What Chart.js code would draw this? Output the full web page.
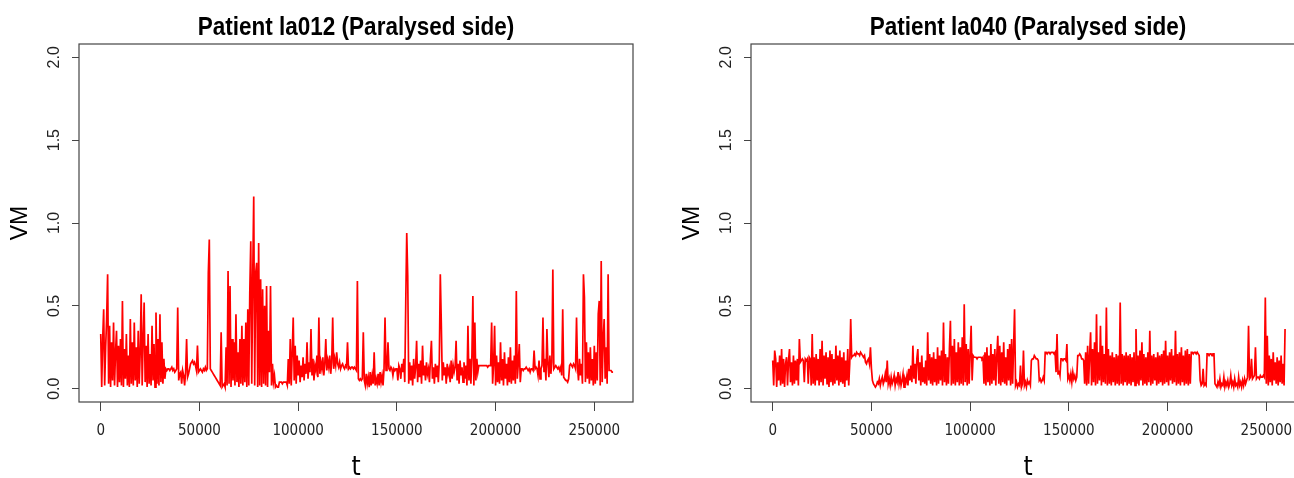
<!DOCTYPE html>
<html><head><meta charset="utf-8">
<script src="https://cdn.jsdelivr.net/npm/chart.js@4.4.0/dist/chart.umd.min.js"></script>
<style>
html,body{margin:0;padding:0;background:#fff;overflow:hidden;width:1294px;height:478px;}
canvas{position:absolute;top:0;}
#c1{left:0}
#c2{left:672px}
</style></head><body>
<canvas id="c1" width="712" height="478"></canvas>
<canvas id="c2" width="712" height="478"></canvas>
<script>
// sampling interval of t (one value per step)
const tStep = 500;

const panelTitles = ["Patient la012 (Paralysed side)", "Patient la040 (Paralysed side)"];
const xTitle = "t";
const yTitle = "VM";
const xTicks = [0, 50000, 100000, 150000, 200000, 250000];
const yTicks = [0, 0.5, 1.0, 1.5, 2.0];

// Patient la012 VM values, one per 500 t
const vmLa012 = [
 0.33,0.01,0.30,0.48,0.02,0.25,0.42,0.69,0.03,0.38, 0.01,0.28,0.05,0.40,0.02,0.22,0.35,0.01,0.26,0.04,
 0.30,0.02,0.53,0.01,0.24,0.06,0.33,0.02,0.20,0.01, 0.42,0.03,0.28,0.02,0.40,0.05,0.25,0.01,0.35,0.03,
 0.22,0.57,0.02,0.30,0.52,0.04,0.26,0.01,0.33,0.03, 0.21,0.02,0.38,0.05,0.27,0.01,0.46,0.03,0.30,0.02,
 0.45,0.04,0.28,0.03,0.18,0.06,0.12,0.11,0.12,0.12, 0.11,0.12,0.13,0.11,0.12,0.10,0.11,0.12,0.49,0.05,
 0.09,0.10,0.03,0.11,0.08,0.02,0.10,0.30,0.07,0.09, 0.12,0.15,0.16,0.17,0.15,0.16,0.14,0.11,0.26,0.10,
 0.11,0.12,0.11,0.10,0.12,0.11,0.13,0.11,0.12,0.70, 0.90,0.12,0.11,0.10,0.09,0.08,0.07,0.06,0.05,0.04,
 0.03,0.02,0.34,0.01,0.02,0.03,0.01,0.25,0.02,0.71, 0.03,0.62,0.01,0.30,0.05,0.28,0.02,0.45,0.04,0.22,
 0.01,0.30,0.03,0.38,0.02,0.30,0.04,0.40,0.01,0.48, 0.02,0.58,0.89,0.03,0.68,1.16,0.02,0.70,0.76,0.01,
 0.88,0.02,0.66,0.01,0.60,0.03,0.50,0.02,0.62,0.01, 0.35,0.10,0.62,0.02,0.15,0.04,0.08,0.01,0.02,0.01,
 0.01,0.04,0.04,0.04,0.03,0.04,0.04,0.04,0.04,0.02, 0.18,0.03,0.30,0.02,0.22,0.43,0.05,0.26,0.03,0.20,
 0.08,0.17,0.04,0.14,0.07,0.19,0.05,0.15,0.09,0.28, 0.06,0.16,0.10,0.36,0.08,0.18,0.05,0.14,0.11,0.20,
 0.07,0.43,0.09,0.16,0.12,0.19,0.08,0.15,0.30,0.11, 0.17,0.13,0.20,0.09,0.16,0.43,0.12,0.18,0.14,0.22,
 0.15,0.13,0.16,0.12,0.14,0.15,0.13,0.12,0.14,0.13, 0.28,0.12,0.13,0.12,0.13,0.13,0.12,0.13,0.12,0.11,
 0.65,0.06,0.05,0.06,0.05,0.06,0.34,0.05,0.02,0.09, 0.03,0.07,0.01,0.10,0.02,0.08,0.03,0.22,0.02,0.06,
 0.03,0.09,0.02,0.10,0.04,0.08,0.02,0.12,0.43,0.11, 0.12,0.28,0.12,0.11,0.13,0.12,0.08,0.12,0.11,0.12,
 0.12,0.05,0.14,0.12,0.06,0.15,0.10,0.18,0.04,0.52, 0.94,0.68,0.03,0.16,0.05,0.14,0.02,0.18,0.06,0.13,
 0.29,0.04,0.15,0.07,0.17,0.03,0.26,0.08,0.14,0.05, 0.16,0.09,0.12,0.04,0.18,0.29,0.06,0.13,0.03,0.15,
 0.07,0.14,0.04,0.17,0.69,0.40,0.05,0.16,0.08,0.13, 0.03,0.15,0.09,0.12,0.04,0.17,0.06,0.14,0.10,0.13,
 0.29,0.05,0.15,0.03,0.17,0.08,0.13,0.04,0.16,0.06, 0.14,0.02,0.38,0.05,0.18,0.03,0.20,0.56,0.02,0.40,
 0.05,0.18,0.10,0.14,0.14,0.14,0.14,0.14,0.14,0.14, 0.14,0.14,0.13,0.14,0.14,0.14,0.40,0.03,0.15,0.38,
 0.02,0.20,0.04,0.16,0.03,0.28,0.05,0.18,0.02,0.22, 0.06,0.15,0.02,0.19,0.04,0.25,0.03,0.17,0.05,0.20,
 0.03,0.59,0.06,0.15,0.27,0.04,0.12,0.12,0.11,0.12, 0.12,0.13,0.12,0.11,0.12,0.10,0.12,0.12,0.11,0.23,
 0.12,0.13,0.12,0.08,0.17,0.06,0.12,0.14,0.43,0.10, 0.18,0.05,0.36,0.15,0.07,0.20,0.09,0.16,0.72,0.12,
 0.13,0.14,0.13,0.12,0.13,0.11,0.13,0.08,0.48,0.07, 0.06,0.05,0.05,0.04,0.06,0.14,0.15,0.14,0.13,0.15,
 0.14,0.12,0.43,0.13,0.05,0.18,0.08,0.15,0.03,0.69, 0.55,0.04,0.28,0.06,0.22,0.03,0.25,0.05,0.18,0.02,
 0.26,0.03,0.22,0.05,0.45,0.53,0.02,0.77,0.04,0.30, 0.42,0.06,0.25,0.03,0.69,0.11,0.11,0.11,0.10,0.10
];

// Patient la040 VM values, one per 500 t
const vmLa040 = [
 0.17,0.02,0.23,0.18,0.01,0.16,0.05,0.20,0.02,0.24, 0.03,0.18,0.01,0.15,0.19,0.02,0.17,0.24,0.04,0.16,
 0.02,0.20,0.03,0.17,0.05,0.18,0.02,0.30,0.16,0.17, 0.18,0.17,0.04,0.18,0.17,0.18,0.03,0.19,0.18,0.02,
 0.33,0.03,0.19,0.02,0.21,0.05,0.18,0.02,0.24,0.04, 0.29,0.02,0.20,0.06,0.22,0.03,0.19,0.01,0.23,0.04,
 0.21,0.02,0.18,0.03,0.26,0.05,0.20,0.02,0.23,0.04, 0.19,0.03,0.22,0.01,0.17,0.05,0.24,0.02,0.15,0.42,
 0.19,0.20,0.20,0.21,0.20,0.22,0.21,0.21,0.20,0.22, 0.21,0.20,0.19,0.20,0.16,0.15,0.17,0.18,0.15,0.25,
 0.12,0.05,0.03,0.02,0.01,0.02,0.04,0.03,0.06,0.02, 0.05,0.07,0.03,0.05,0.09,0.04,0.17,0.03,0.06,0.02,
 0.07,0.03,0.05,0.08,0.02,0.06,0.04,0.10,0.03,0.07, 0.02,0.05,0.09,0.01,0.06,0.04,0.08,0.02,0.12,0.05,
 0.14,0.04,0.26,0.06,0.15,0.03,0.18,0.24,0.05,0.16, 0.02,0.20,0.04,0.13,0.03,0.17,0.02,0.34,0.05,0.21,
 0.03,0.19,0.02,0.22,0.04,0.18,0.02,0.25,0.03,0.20, 0.05,0.23,0.02,0.40,0.04,0.21,0.02,0.19,0.03,0.24,
 0.41,0.02,0.26,0.03,0.30,0.02,0.22,0.04,0.28,0.02, 0.25,0.03,0.31,0.02,0.51,0.04,0.27,0.02,0.24,0.03,
 0.22,0.38,0.05,0.20,0.19,0.19,0.19,0.18,0.19,0.19, 0.19,0.19,0.18,0.19,0.03,0.22,0.02,0.25,0.04,0.20,
 0.02,0.27,0.03,0.21,0.05,0.24,0.02,0.20,0.32,0.03, 0.26,0.02,0.22,0.04,0.28,0.03,0.19,0.02,0.24,0.05,
 0.27,0.02,0.30,0.03,0.25,0.48,0.02,0.04,0.01,0.03, 0.02,0.14,0.01,0.03,0.23,0.02,0.04,0.01,0.05,0.03,
 0.04,0.02,0.17,0.18,0.18,0.20,0.19,0.18,0.18,0.17, 0.05,0.06,0.04,0.05,0.07,0.05,0.22,0.22,0.21,0.22,
 0.22,0.21,0.22,0.22,0.22,0.21,0.22,0.10,0.33,0.09, 0.11,0.08,0.18,0.18,0.17,0.18,0.18,0.17,0.27,0.06,
 0.08,0.05,0.09,0.04,0.10,0.06,0.08,0.05,0.07,0.20, 0.20,0.21,0.20,0.18,0.18,0.17,0.03,0.22,0.02,0.26,
 0.03,0.20,0.34,0.02,0.24,0.04,0.28,0.02,0.45,0.03, 0.22,0.05,0.38,0.02,0.26,0.04,0.21,0.03,0.49,0.02,
 0.24,0.03,0.20,0.02,0.22,0.04,0.19,0.02,0.21,0.03, 0.20,0.02,0.52,0.03,0.21,0.02,0.20,0.04,0.22,0.02,
 0.20,0.03,0.21,0.02,0.19,0.04,0.22,0.02,0.36,0.03, 0.20,0.02,0.23,0.05,0.28,0.02,0.21,0.03,0.19,0.02,
 0.22,0.04,0.35,0.02,0.20,0.03,0.21,0.05,0.19,0.02, 0.22,0.03,0.20,0.04,0.21,0.02,0.23,0.03,0.29,0.04,
 0.20,0.02,0.22,0.05,0.24,0.03,0.20,0.04,0.35,0.02, 0.21,0.03,0.22,0.02,0.25,0.04,0.20,0.02,0.23,0.03,
 0.24,0.02,0.21,0.03,0.22,0.22,0.21,0.22,0.22,0.21, 0.22,0.21,0.20,0.05,0.02,0.03,0.12,0.02,0.03,0.02,
 0.21,0.21,0.20,0.21,0.21,0.20,0.21,0.21,0.03,0.02, 0.01,0.04,0.02,0.06,0.01,0.03,0.02,0.07,0.01,0.04,
 0.02,0.05,0.01,0.03,0.08,0.02,0.04,0.01,0.06,0.02, 0.03,0.01,0.07,0.02,0.04,0.01,0.05,0.02,0.06,0.03,
 0.05,0.07,0.38,0.06,0.07,0.18,0.06,0.07,0.08,0.25, 0.06,0.07,0.07,0.06,0.08,0.07,0.07,0.08,0.07,0.55,
 0.03,0.32,0.02,0.20,0.04,0.18,0.02,0.22,0.05,0.16, 0.03,0.19,0.02,0.17,0.04,0.20,0.03,0.15,0.02,0.36
];

const condensed = "'Liberation Sans Narrow','Arial Narrow','DejaVu Sans Condensed',sans-serif";
const regular = "'Liberation Sans',Arial,sans-serif";

const boxPlugin = {
  id: 'plotBox',
  afterDatasetsDraw(chart) {
    const {ctx, chartArea: a} = chart;
    ctx.save();
    ctx.strokeStyle = '#444';
    ctx.lineWidth = 1.2;
    ctx.strokeRect(a.left, a.top, a.right - a.left, a.bottom - a.top);
    ctx.restore();
  }
};

// main title, centred over the plot box (narrow like the original)
const titlePlugin = {
  id: 'panelTitle',
  afterDraw(chart, args, opts) {
    const {ctx, chartArea: a} = chart;
    ctx.save();
    ctx.font = "bold 25px 'Liberation Sans', Arial, sans-serif";
    ctx.fillStyle = '#000';
    ctx.textAlign = 'center';
    ctx.textBaseline = 'alphabetic';
    ctx.translate((a.left + a.right) / 2, 35);
    ctx.scale(0.9, 1);
    ctx.fillText(opts.text, 0, 0);
    ctx.restore();
  }
};

function makeChart(id, title, values) {
  const pts = values.map((v, i) => ({x: i * tStep, y: v}));
  return new Chart(document.getElementById(id), {
    type: 'line',
    data: { datasets: [{ data: pts, borderColor: '#ff0000', borderWidth: 1.7, pointRadius: 0, tension: 0, fill: false, borderJoinStyle: 'miter' }] },
    options: {
      responsive: false, animation: false, devicePixelRatio: 1,
      layout: { padding: { left: 0, right: 79, top: 44, bottom: 0 } },
      plugins: {
        legend: { display: false }, tooltip: { enabled: false },
        title: { display: false },
        panelTitle: { text: title }
      },
      scales: {
        x: {
          type: 'linear', min: -11000, max: 269600,
          afterBuildTicks: s => { s.ticks = xTicks.map(v => ({value: v})); },
          afterFit: s => { s.height = 76; },
          ticks: { callback: v => String(v), color: '#222', font: { family: condensed, size: 15 }, padding: 11, maxRotation: 0, autoSkip: false },
          grid: { display: true, drawOnChartArea: false, drawTicks: true, tickLength: 9, color: '#444', lineWidth: 1 },
          border: { display: false },
          title: { display: true, text: xTitle, color: '#000', font: { family: condensed, size: 26, lineHeight: 1 }, padding: { top: 0, bottom: -3 } }
        },
        y: {
          min: -0.08, max: 2.08,
          afterBuildTicks: s => { s.ticks = yTicks.map(v => ({value: v})); },
          afterFit: s => { s.width = 79; },
          ticks: { callback: v => v.toFixed(1), color: '#222', font: { family: regular, size: 16 }, padding: 6, minRotation: 90, maxRotation: 90, crossAlign: 'center' },
          grid: { display: true, drawOnChartArea: false, drawTicks: true, tickLength: 7, color: '#444', lineWidth: 1 },
          border: { display: false },
          title: { display: true, text: yTitle, color: '#000', font: { family: regular, size: 23 }, padding: { top: 7, bottom: 0 } }
        }
      }
    },
    plugins: [boxPlugin, titlePlugin]
  });
}

makeChart('c1', panelTitles[0], vmLa012);
makeChart('c2', panelTitles[1], vmLa040);
</script>
</body></html>
